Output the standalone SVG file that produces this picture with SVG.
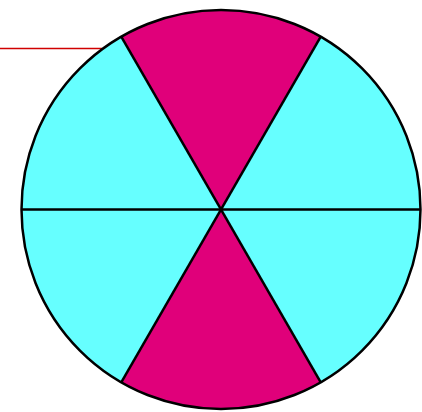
<svg xmlns="http://www.w3.org/2000/svg" width="422" height="412" viewBox="0 0 422 412">
<style>
.s{stroke:#000;stroke-width:2.5;stroke-linejoin:round}
.c{fill:#66FFFF}
.m{fill:#E0007A}
</style>
<rect width="422" height="412" fill="#fff"/>
<g id="connectors">
<line x1="0" y1="48.5" x2="102" y2="48.5" stroke="#D00000" stroke-width="1.5"/>
</g>
<g id="pie">
<circle class="c" cx="221" cy="209.5" r="199.5"/>
<path id="top" class="m" d="M221,209.5 L121.25,36.7 A199.5,199.5 0 0 1 320.75,36.7 Z"/>
<path id="bottom" class="m" d="M221,209.5 L320.75,382.3 A199.5,199.5 0 0 1 121.25,382.3 Z"/>
<g class="s" fill="none">
<line x1="121.25" y1="36.7" x2="320.75" y2="382.3"/>
<line x1="320.75" y1="36.7" x2="121.25" y2="382.3"/>
<line x1="21.5" y1="209.5" x2="420.5" y2="209.5"/>
<circle cx="221" cy="209.5" r="199.5"/>
</g>
</g>
</svg>
